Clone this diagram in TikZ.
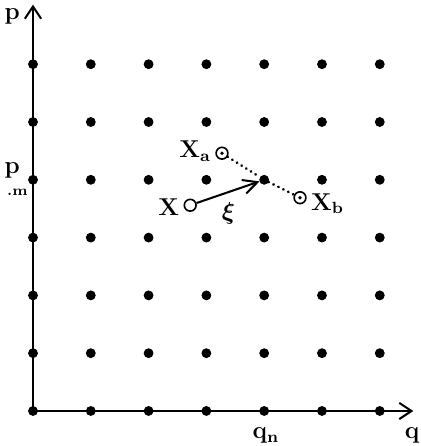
\documentclass[tikz,border=0pt]{standalone}
\usepackage{amsmath,amssymb,bm}
\usepackage{tikz}
\usetikzlibrary{positioning,calc,arrows.meta}
\tikzset{
  axis/.style    = {line width=1pt, -{Straight Barb[length=6pt,width=8pt]}},
  bdot/.style    = {circle, draw, fill=black, inner sep=0pt, minimum size=4.4pt},
  wdot/.style    = {circle, draw, fill=white, inner sep=0pt, minimum size=5.8pt,
                    line width=0.8pt},
  link/.style    = {line width=1.4pt, dash pattern=on 0.1pt off 2.6pt,
                    line cap=round},
  lbl/.style     = {font=\large\bfseries, inner sep=1pt},
}
\begin{document}
\begin{tikzpicture}
  \useasboundingbox (-0.571,-0.606) rectangle (6.713,7.111);
  \coordinate (o) at (0,0);
  \coordinate (pend) at (0,7.03);
  \coordinate (qend) at (6.58,0);
  \draw[axis] (o)--(pend);
  \draw[axis] (o)--(qend);
  \foreach \i in {0,...,6}{
    \foreach \j in {0,...,6}{
      \node[bdot] (d\i\j) at (\i,\j) {};
    }
  }
  \node[lbl] (p) at (-0.36,6.82) {p};
  \node[lbl] (q) at (6.56,-0.42) {q};
  \node[lbl] (pm) at (-0.36,4.17) {p};
  \node[font=\scriptsize\bfseries, inner sep=0pt] (pmm) at (-0.27,3.78) {.m};
  \node[lbl] (qn) at (4.03,-0.42) {q$_{\mathbf n}$};
  % perturbed points round the lattice site
  \node[wdot] (xa) at (3.27,4.46) {};
  \node[wdot] (xb) at (4.62,3.69) {};
  \fill (xa) circle (0.9pt);
  \fill (xb) circle (0.9pt);
  \node[wdot] (x) at (2.72,3.56) {};
  \node[lbl, left=1pt of x, yshift=-1pt] (xl) {X};
  \node[lbl, left=1pt of xa, yshift=1pt] (xal) {X$_{\mathbf a}$};
  \node[lbl, right=1pt of xb, yshift=-3pt] (xbl) {X$_{\mathbf b}$};
  \node[font=\large, inner sep=0pt] (xi) at (3.38,3.42) {$\bm{\xi}$};
  \draw[link] (xa)--(d44);
  \draw[link] (d44)--(xb);
  \draw[line width=1pt, -{Straight Barb[length=7pt,width=7pt]}] (x)--(d44);
\end{tikzpicture}
\end{document}
